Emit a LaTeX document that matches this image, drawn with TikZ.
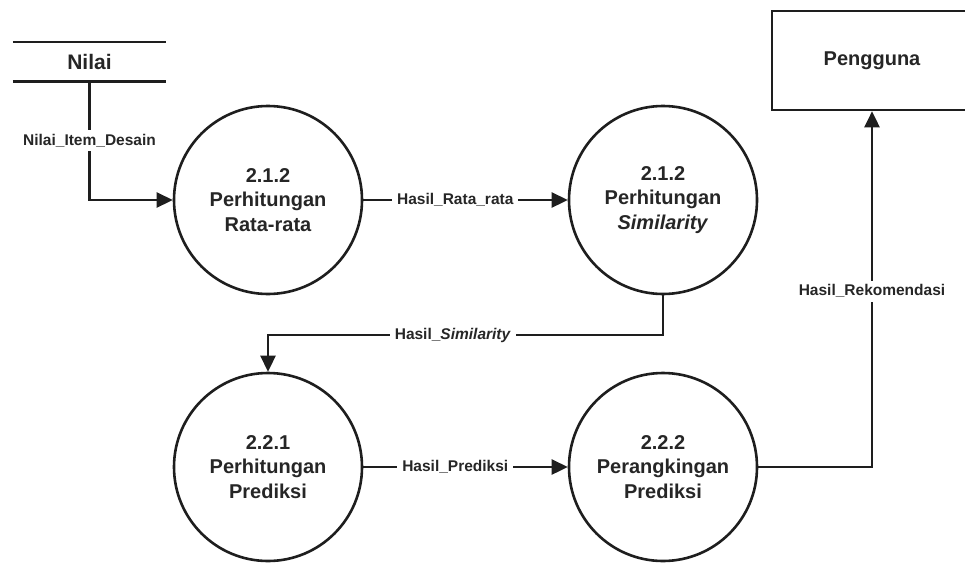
\documentclass[tikz,border=0pt]{standalone}
\usepackage{fontspec}
\setmainfont{Liberation Sans}
\usetikzlibrary{arrows.meta}
\definecolor{ink}{HTML}{1E1E1E}
\definecolor{txt}{HTML}{262626}
\begin{document}
\begin{tikzpicture}[x=1pt,y=-1pt,
  proc/.style={circle,draw=ink,line width=2.6pt,minimum size=188pt,inner sep=0pt,
    align=center,text=txt,font=\bfseries\fontsize{20}{24.5}\selectfont},
  ent/.style={rectangle,draw=ink,line width=2.6pt,minimum width=200pt,minimum height=99pt,
    inner sep=0pt,text=txt,font=\bfseries\fontsize{20}{24}\selectfont},
  store/.style={rectangle,minimum width=153pt,minimum height=39pt,inner sep=0pt,
    text=txt,font=\bfseries\fontsize{21}{24}\selectfont},
  flow/.style={draw=ink,line width=2.6pt,-{Triangle[length=16pt,width=15pt]}},
  plain/.style={draw=ink,line width=2.6pt},
  lbl/.style={fill=white,text=txt,inner xsep=5pt,inner ysep=4pt,
    font=\bfseries\fontsize{15.5}{18}\selectfont}]
\useasboundingbox (0,0) rectangle (965,562);
\clip (0,0) rectangle (965,562);
\fill[white] (0,0) rectangle (965,562);

% store
\node[store] (nilai) at (89.5,61.5) {Nilai};
\draw[plain] (nilai.north west) -- (nilai.north east);
\draw[plain] (nilai.south west) -- (nilai.south east);

% processes
\node[proc] (p1) at (268,200) {2.1.2\\Perhitungan\\Rata-rata};
\node[proc] (p2) at (663,200) {2.1.2\\Perhitungan\\\textit{Similarity}};
\node[proc] (p3) at (268,467) {2.2.1\\Perhitungan\\Prediksi};
\node[proc] (p4) at (663,467) {2.2.2\\Perangkingan\\Prediksi};

% external entity
\node[ent] (user) at (872,60.5) {Pengguna};

% flows
\draw[flow] (nilai.south) |- node[lbl,pos=0.25]{Nilai\_Item\_Desain} (p1.west);
\draw[flow] (p1.east) -- node[lbl,pos=0.45]{Hasil\_Rata\_rata} (p2.west);
\coordinate (c1) at (663,335);
\draw[flow] (p2.south) -- (c1) -| node[lbl,pos=0.266]{Hasil\_\textit{Similarity}} (p3.north);
\draw[flow] (p3.east) -- node[lbl,pos=0.45]{Hasil\_Prediksi} (p4.west);
\draw[flow] (p4.east) -| node[lbl,pos=0.747]{Hasil\_Rekomendasi} (user.south);
\end{tikzpicture}
\end{document}
